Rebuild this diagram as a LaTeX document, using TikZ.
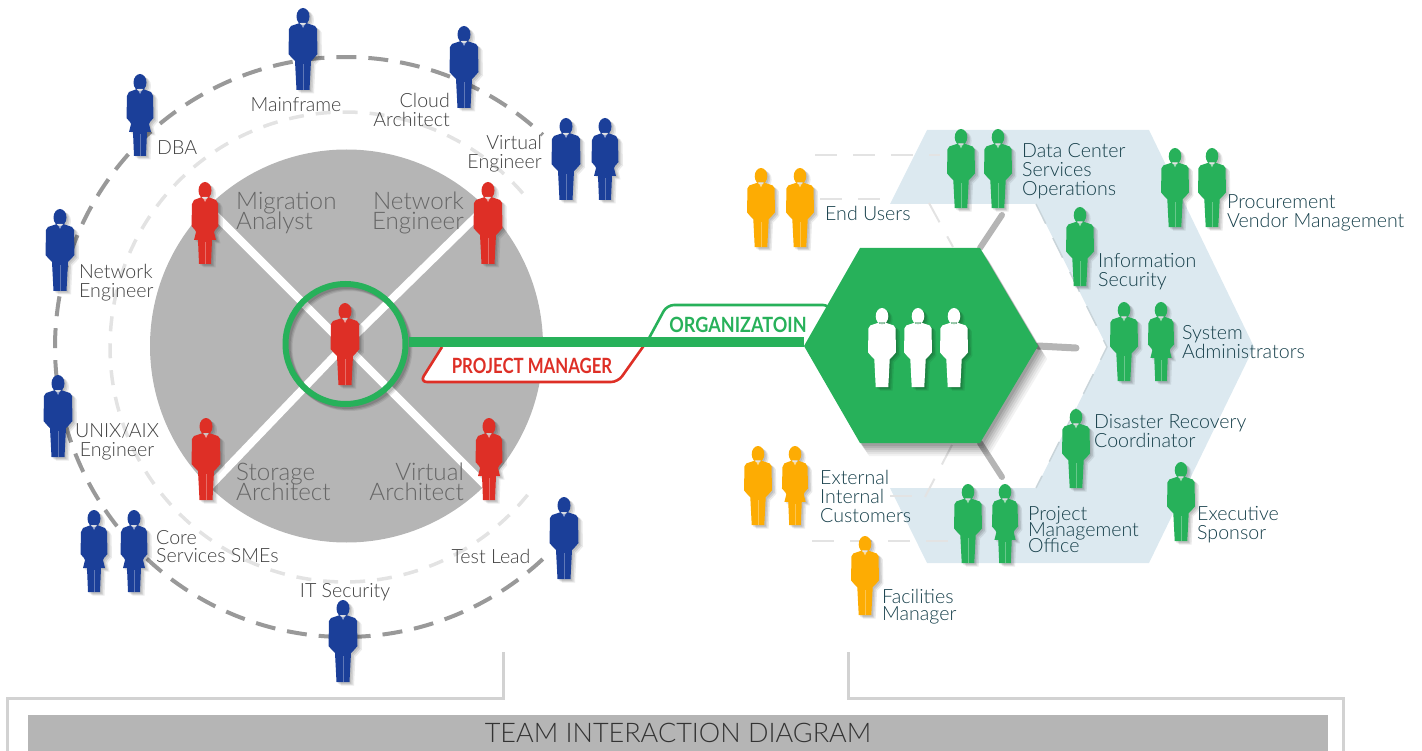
\documentclass[tikz,border=0pt]{standalone}
\usepackage{fontspec}
\setmainfont[UprightFont=* Light,BoldFont=*]{Lato}
\newfontfamily\cond[FakeStretch=0.80]{Lato}
\newfontfamily\condo[FakeStretch=0.86]{Lato}
\AtBeginDocument{\lineskiplimit=-100pt}
\usetikzlibrary{calc}
\definecolor{cblue}{HTML}{1B3F99}
\definecolor{cred}{HTML}{DE2F26}
\definecolor{cgreen}{HTML}{27B15A}
\definecolor{corange}{HTML}{FDAC03}
\definecolor{cgray}{HTML}{B5B5B5}
\definecolor{cdash}{HTML}{999999}
\definecolor{clight}{HTML}{E3E3E3}
\definecolor{cpale}{HTML}{DCE9F0}
\definecolor{ctxt}{HTML}{404040}
\definecolor{cteal}{HTML}{163F4A}
\definecolor{cbig}{HTML}{666666}
\definecolor{cbracket}{HTML}{D2D2D2}
\def\manpath{(-3,15)--(-12,18)--(-14,21)--(-14.5,46)--(-11,50)--(-8,53)--(-6.5,82)--(6.5,82)--(8,53)--(11,50)--(14.5,46)--(14,21)--(12,18)--(3,15)--cycle (0,8.5) ellipse [x radius=6.5,y radius=8.5]}
\def\womanpath{(-3,15)--(-11,18)--(-13,22)--(-13.5,44)--(-10,48)--(-9,50)--(-11,58)--(-7,58)--(-6,82)--(6,82)--(7,58)--(11,58)--(9,50)--(10,48)--(13.5,44)--(13,22)--(11,18)--(3,15)--cycle (0,8.5) ellipse [x radius=6.5,y radius=8.5]}
\tikzset{
  x=1pt,y=-1pt,
  pics/man/.style={code={
    \fill[black,opacity=.10,shift={(1.5,1.5)}] \manpath;
    \fill[black,opacity=.10,shift={(3,2.5)}] \manpath;
    \fill[black,opacity=.08,shift={(4.5,3.5)}] \manpath;
    \fill[#1] \manpath;
    \draw[white,opacity=.3,line width=.6] (0,56)--(0,82);
    \fill[white,opacity=.55] (-2.5,15)--(2.5,15)--(0,20)--cycle;
  }},
  pics/woman/.style={code={
    \fill[black,opacity=.10,shift={(1.5,1.5)}] \womanpath;
    \fill[black,opacity=.10,shift={(3,2.5)}] \womanpath;
    \fill[black,opacity=.08,shift={(4.5,3.5)}] \womanpath;
    \fill[#1] \womanpath;
    \draw[white,opacity=.3,line width=.6] (0,60)--(0,82);
    \fill[white,opacity=.55] (-2.5,15)--(2.5,15)--(0,20)--cycle;
  }},
  sm/.style={scale=.965},
  lbl/.style={inner sep=0pt,yshift=-1.5pt,text=ctxt,font=\fontsize{19.6}{19}\selectfont},
  lblg/.style={lbl,text=cteal},
  big/.style={inner sep=0pt,yshift=-1.5pt,text=cbig,font=\fontsize{24.2}{20}\selectfont},
  outerdash/.style={cdash,line width=4,dash pattern=on 20 off 12},
  innerdash/.style={clight,line width=3.5,dash pattern=on 15 off 12},
  hexdash/.style={clight,line width=2,dash pattern=on 22 off 16},
  spoke/.style={cgray,line width=6,line cap=round},
  xline/.style={white,line width=8},
  bracket/.style={cbracket,line width=3},
  tab/.style={line width=2.6,fill=white,rounded corners=7},
}
\begin{document}
\begin{tikzpicture}
\useasboundingbox (0,0) rectangle (1422,751);
% --- left group
\node[circle,fill=cgray,minimum size=393,inner sep=0pt] (team) at (346.5,346) {};
\draw[innerdash] plot[domain=39:321,samples=90,smooth] ({345+235*cos(\x)},{347+235*sin(\x)});
\draw[outerdash] plot[domain=47:313,samples=120,smooth] ({345+290*cos(\x)},{347+290*sin(\x)});
\coordinate (pm) at (345,345);
\coordinate (xa) at (205,205);
\coordinate (xb) at (488,205);
\coordinate (xc) at (208,488);
\coordinate (xd) at (488,488);
\draw[xline] (pm)--(xa);
\draw[xline] (pm)--(xb);
\draw[xline] (pm)--(xc);
\draw[xline] (pm)--(xd);
% --- right pale shape and dashed hexagon pieces
\fill[cpale] (927,130)--(1149,130)--(1254,347)--(1149,563)--(927,563)--(890,488)--(1036,488)--(1107,347)--(1036,204)--(890,204)--cycle;
\coordinate (d1a) at (815,155); \coordinate (d1b) at (940,155);
\coordinate (d2a) at (820,199); \coordinate (d2b) at (895,199);
\coordinate (d3a) at (812,541); \coordinate (d3b) at (960,541);
\coordinate (d4a) at (890,496); \coordinate (d4b) at (912,496);
\coordinate (d5a) at (929,203); \coordinate (d5b) at (953,247);
\coordinate (d6a) at (952,445); \coordinate (d6b) at (925,497);
\coordinate (d7a) at (1036,204); \coordinate (d7b) at (1107,347); \coordinate (d7c) at (1036,488);
\draw[hexdash] (d1a)--(d1b);
\draw[hexdash] (d2a)--(d2b);
\draw[hexdash] (d3a)--(d3b);
\draw[hexdash] (d4a)--(d4b);
\draw[hexdash] (d5a)--(d5b);
\draw[hexdash] (d6a)--(d6b);
\draw[hexdash,line width=1.5,color=cpale!80!gray] (d7a)--(d7b)--(d7c);
% --- hexagon hub
\coordinate (hl) at (804,346); \coordinate (htl) at (860,248); \coordinate (htr) at (980,248);
\coordinate (hr) at (1038,346); \coordinate (hbr) at (980,443); \coordinate (hbl) at (860,443);
\coordinate (sa) at (1002,215); \coordinate (sb) at (1076,348); \coordinate (sc) at (1002,477);
\draw[spoke] (htr)--(sa);
\draw[spoke,line width=7] (hr)--(sb);
\draw[spoke] (hbr)--(sc);
\foreach \o/\p in {13/.05,11/.06,9/.07,7/.08,5/.09,3/.10}{
  \fill[black,opacity=\p] ([shift={(\o*.7,\o)}]hl)--([shift={(\o*.7,\o)}]htl)--([shift={(\o*.7,\o)}]htr)--([shift={(\o*.7,\o)}]hr)--([shift={(\o*.7,\o)}]hbr)--([shift={(\o*.7,\o)}]hbl)--cycle;
}
% --- tabs and bar
\coordinate (oa) at (648,340); \coordinate (ob) at (667,305); \coordinate (oc) at (830,305); \coordinate (od) at (830,340);
\coordinate (ra) at (442,347); \coordinate (rb) at (420,382); \coordinate (rc) at (618,382); \coordinate (rd) at (645,344);
\draw[tab,draw=cgreen] (oa)--(ob)--(oc)--(od);
\draw[tab,draw=cred] (ra)--(rb)--(rc)--(rd);
\fill[cgreen] (hl)--(htl)--(htr)--(hr)--(hbr)--(hbl)--cycle;
% ring
\foreach \o/\p in {4/.08,3/.10,2/.12}{
  \draw[black,opacity=\p,line width=6] (345.5+\o,344+\o) circle [radius=60];
}
\node[circle,draw=cgreen,line width=6,minimum size=120,inner sep=0pt] (ring) at (345.5,344) {};
\coordinate (hub) at (hl);
\draw[cgreen,line width=10] (ring.east |- 0,342) -- (hub |- 0,342);
% --- tab labels
\node[inner sep=0pt,text=cgreen] (orgl) at (738,325) {\condo\bfseries\fontsize{21}{21}\selectfont ORGANIZATOIN};
\node[inner sep=0pt,text=cred] (pml) at (532,366) {\cond\bfseries\fontsize{21}{21}\selectfont PROJECT MANAGER};
% --- persons blue
\pic at (303,8) {man=cblue};
\pic at (464,26) {man=cblue};
\pic at (566,118) {man=cblue};
\pic at (605,118) {woman=cblue};
\pic at (140,74) {woman=cblue};
\pic at (60,209) {man=cblue};
\pic at (58,375) {man=cblue};
\pic at (94,510) {woman=cblue};
\pic at (134,510) {woman=cblue};
\pic at (343,600) {man=cblue};
\pic at (564,497) {man=cblue};
% --- persons red
\pic at (205,182) {woman=cred};
\pic at (488,182) {man=cred};
\pic at (345,303) {man=cred};
\pic at (206,418) {man=cred};
\pic at (489,418) {woman=cred};
% --- persons hub
\pic[sm] at (882,308) {man=white};
\pic[sm] at (918,308) {man=white};
\pic[sm] at (954,308) {man=white};
% --- persons green
\pic[sm] at (961,129) {man=cgreen};
\pic[sm] at (998,129) {man=cgreen};
\pic[sm] at (1175,148) {man=cgreen};
\pic[sm] at (1212,148) {man=cgreen};
\pic[sm] at (1080,207) {man=cgreen};
\pic[sm] at (1124,302) {man=cgreen};
\pic[sm] at (1161,302) {woman=cgreen};
\pic[sm] at (1076,409) {man=cgreen};
\pic[sm] at (1181,462) {man=cgreen};
\pic[sm] at (968,484) {man=cgreen};
\pic[sm] at (1005,484) {woman=cgreen};
% --- persons orange
\pic[sm] at (761,168) {man=corange};
\pic[sm] at (800,168) {man=corange};
\pic[sm] at (758,446) {man=corange};
\pic[sm] at (795,446) {woman=corange};
\pic[sm] at (865,536) {man=corange};
% --- labels left
\node[lbl] (t1) at (296,103) {Mainframe};
\node[lbl,align=right,anchor=east] (t2) at (450,108) {Cloud\\Architect};
\node[lbl,align=right,anchor=east] (t3) at (542,152) {Virtual\\Engineer};
\node[lbl,anchor=west] (t4) at (157,146) {DBA};
\node[lbl,align=left,anchor=west] (t5) at (79,281) {Network\\Engineer};
\node[lbl,align=center] (t6) at (117,440) {UNIX/AIX\\Engineer};
\node[lbl,align=left,anchor=west,font=\fontsize{19.6}{18}\selectfont] (t7) at (156,545) {Core\\Services SMEs};
\node[lbl] (t8) at (345,591) {IT Security};
\node[lbl] (t9) at (491,555) {Test Lead};
\node[big,align=left,anchor=west] (b1) at (236,211) {Migration\\Analyst};
\node[big,align=right,anchor=east] (b2) at (464,211) {Network\\Engineer};
\node[big,align=left,anchor=west] (b3) at (236,480) {Storage\\Architect};
\node[big,align=right,anchor=east] (b4) at (464,480) {Virtual\\Architect};
% --- labels right
\node[lblg,align=left,anchor=west] (g1) at (1022,170) {Data Center\\Services\\Operations};
\node[lblg,anchor=west] (g2) at (825,212) {End Users};
\node[lblg,align=left,anchor=west] (g3) at (1227,211) {Procurement\\Vendor Management};
\node[lblg,align=left,anchor=west] (g4) at (1098,270) {Information\\Security};
\node[lblg,align=left,anchor=west] (g5) at (1182,341) {System\\Administrators};
\node[lblg,align=left,anchor=west] (g6) at (1094,430) {Disaster Recovery\\Coordinator};
\node[lblg,align=left,anchor=west] (g7) at (820,495) {External\\Internal\\Customers};
\node[lblg,align=left,anchor=west,font=\fontsize{19.6}{16}\selectfont] (g8) at (1028,528) {Project\\Management\\Office};
\node[lblg,align=left,anchor=west] (g9) at (1197,523) {Executive\\Sponsor};
\node[lblg,align=left,anchor=west,font=\fontsize{19.6}{17}\selectfont] (g10) at (882,605) {Facilities\\Manager};
% --- banner
\coordinate (lb1) at (503,652); \coordinate (lb2) at (503,698); \coordinate (lb3) at (7,698); \coordinate (lb4) at (7,751);
\coordinate (rb1) at (848,652); \coordinate (rb2) at (848,698); \coordinate (rb3) at (1343,698); \coordinate (rb4) at (1343,751);
\draw[bracket] (lb1)--(lb2)--(lb3)--(lb4);
\draw[bracket] (rb1)--(rb2)--(rb3)--(rb4);
\node[fill=cgray,minimum width=1300,minimum height=36,inner sep=0pt,text=black!80,font=\fontsize{27}{27}\selectfont] (banner) at (678,733) {TEAM INTERACTION DIAGRAM};
\end{tikzpicture}
\end{document}
